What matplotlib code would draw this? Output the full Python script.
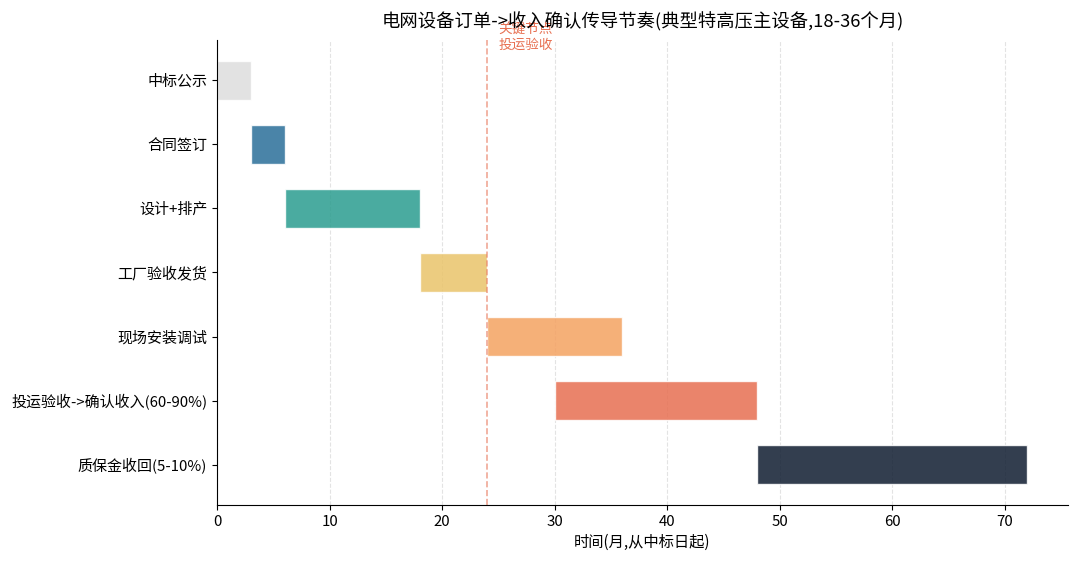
import matplotlib
matplotlib.use("Agg")
import matplotlib.pyplot as plt

plt.rcParams['font.family'] = ['Noto Sans CJK SC', 'DejaVu Sans']
plt.rcParams['axes.unicode_minus'] = False

stages = ['中标公示', '合同签订', '设计+排产', '工厂验收发货', '现场安装调试',
          '投运验收->确认收入(60-90%)', '质保金收回(5-10%)']
starts = [0, 3, 6, 18, 24, 30, 48]
durations = [3, 3, 12, 6, 12, 18, 24]
colors = ['#DDDDDD', '#2A6E99', '#2A9D8F', '#E9C46A', '#F4A261', '#E76F51', '#0F1C30']
key_month = 24
title = '电网设备订单->收入确认传导节奏(典型特高压主设备,18-36个月)'
xlabel = '时间(月,从中标日起)'
note = '关键节点\n投运验收'

fig = plt.figure(figsize=(10.8, 5.64), dpi=100)
ax = fig.add_axes([0.2009, 0.1046, 0.788, 0.8245])

ypos = list(range(len(stages)))
ax.barh(ypos, durations, left=starts, height=0.6, color=colors, alpha=0.85,
        edgecolor='white', linewidth=1)
ax.set_yticks(ypos)
ax.set_yticklabels(stages, fontsize=10.8)
ax.invert_yaxis()
ax.set_xlim(0, max(s + d for s, d in zip(starts, durations)) * 1.05)

ax.axvline(key_month, color='#E76F51', linestyle='--', linewidth=1.2, alpha=0.6)
ax.text(key_month + 1, -0.45, note, color='#E76F51', fontsize=9.8,
        va='bottom', ha='left', linespacing=1.05)

ax.grid(axis='x', linestyle='--', alpha=0.35)
ax.set_axisbelow(True)
ax.spines['top'].set_visible(False)
ax.spines['right'].set_visible(False)
ax.tick_params(axis='x', labelsize=10.8)
ax.set_xlabel(xlabel, fontsize=11)
ax.set_title(title, fontsize=13.2, pad=9)

fig.savefig('out.png', dpi=100)
